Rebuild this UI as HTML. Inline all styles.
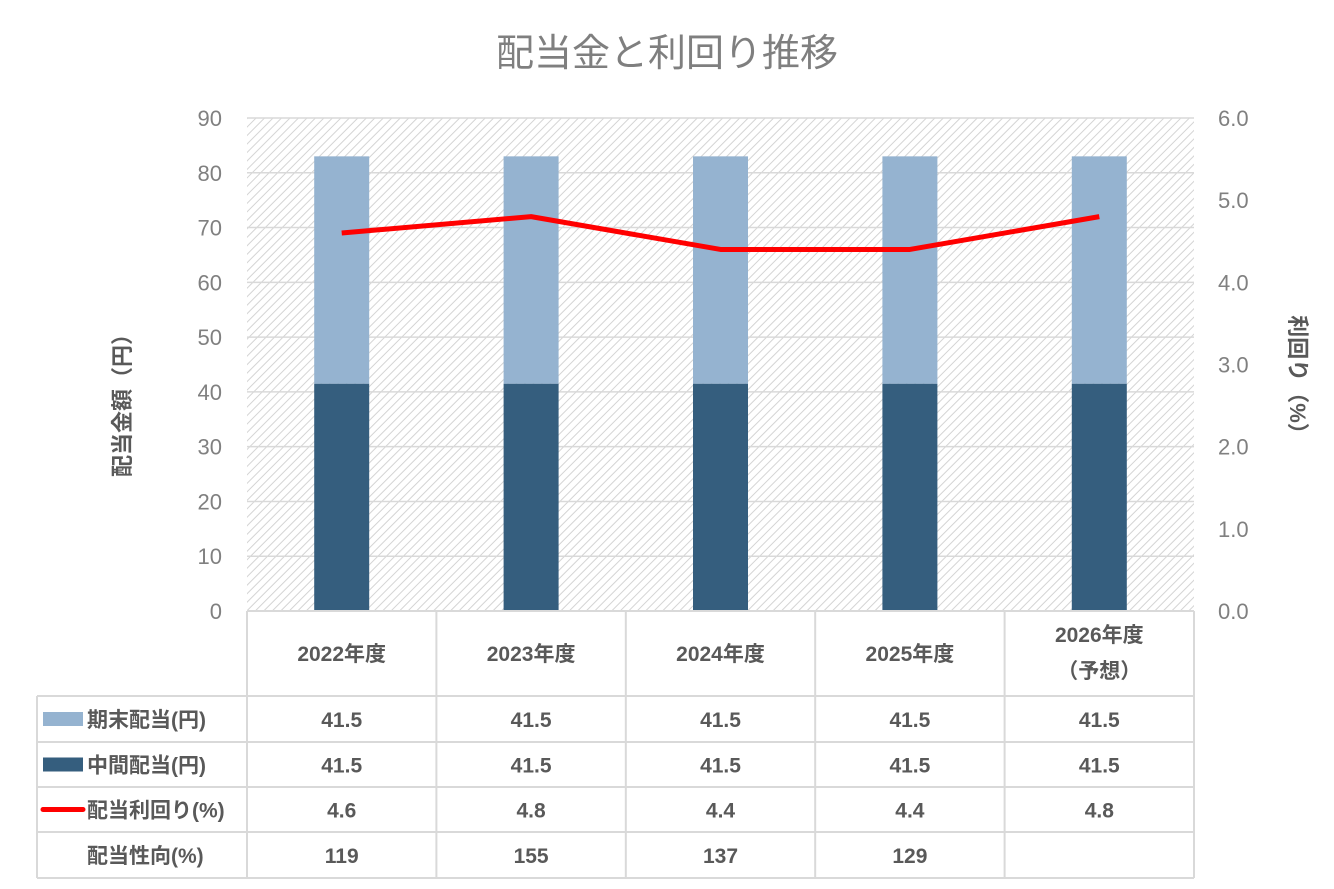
<!DOCTYPE html>
<html><head><meta charset="utf-8"><style>
body{margin:0;background:#fff;}
svg{display:block;font-family:"Liberation Sans","Noto Sans CJK JP",sans-serif;}
</style></head><body>
<svg id="c" width="1334" height="889" viewBox="0 0 1334 889">
<defs>
<pattern id="hatch" width="6" height="6" patternUnits="userSpaceOnUse" patternTransform="rotate(45)">
<rect width="6" height="6" fill="#fff"/><line x1="0" y1="0" x2="0" y2="6" stroke="#d4d4d4" stroke-width="2"/>
</pattern>
</defs>
<text x="667" y="66" text-anchor="middle" font-size="38" fill="#7f7f7f">配当金と利回り推移</text>
<rect x="247" y="118" width="947" height="493" fill="url(#hatch)"/>
<g id="grid"></g><g id="bars"></g><g id="line"></g><g id="axes"></g><g id="table"></g>
<text transform="translate(130,400) rotate(-90)" text-anchor="middle" font-size="22" font-weight="bold" fill="#595959">配当金額（円）</text>
<text transform="translate(1290,380) rotate(90)" text-anchor="middle" font-size="22" font-weight="bold" fill="#595959">利回り（%）</text>
</svg>
<script>
const categories=["2022年度","2023年度","2024年度","2025年度","2026年度"];
const interim=[41.5,41.5,41.5,41.5,41.5];
const yearEnd=[41.5,41.5,41.5,41.5,41.5];
const yieldPct=[4.6,4.8,4.4,4.4,4.8];
const payout=["119","155","137","129",""];
const leftTicks=[0,10,20,30,40,50,60,70,80,90];
const rightTicks=["0.0","1.0","2.0","3.0","4.0","5.0","6.0"];
const NS="http://www.w3.org/2000/svg";
const X0=247,X1=1194,Y0=611,Y1=118,colW=(X1-X0)/categories.length;
const y=v=>Y0-(v/90)*(Y0-Y1);
const y2=v=>Y0-(v/6)*(Y0-Y1);
const cx=i=>X0+colW*(i+0.5);
function mk(p,tag,a,txt){const e=document.createElementNS(NS,tag);for(const k in a)e.setAttribute(k,a[k]);if(txt!==undefined)e.textContent=txt;document.getElementById(p).appendChild(e);return e;}
leftTicks.forEach(t=>{
 const g=mk('grid','line',{x1:X0,x2:X1,y1:y(t),y2:y(t),stroke:'#d9d9d9','stroke-width':1.5});
 
 
 const l=mk('axes','text',{x:222,y:y(t)+8,'text-anchor':'end','font-size':22,fill:'#808080'},t);
 
 
});
rightTicks.forEach((t,i)=>{
 const l=mk('axes','text',{x:1218,y:y2(+t)+8,'font-size':22,fill:'#808080'},t);
 
 
});
categories.forEach((c,i)=>{
 const bw=55;
 const b1=mk('bars','rect',{x:cx(i)-bw/2,y:y(interim[i]),width:bw,height:Y0-y(interim[i]),fill:'#355e7e'});
 
 
 const top=interim[i]+yearEnd[i];
 const b2=mk('bars','rect',{x:cx(i)-bw/2,y:y(top),width:bw,height:y(interim[i])-y(top),fill:'#95b3d0'});
 
 
});
const pl=mk('line','polyline',{points:yieldPct.map((v,i)=>cx(i)+','+y2(v)).join(' '),fill:'none',stroke:'#ff0000','stroke-width':5,'stroke-linejoin':'round'});


// table
const rows=[611,696,742,787,832,878];
const lc='#d9d9d9';
[X0,...categories.map((c,i)=>X0+colW*(i+1))].forEach(x=>{const l=mk('table','line',{x1:x,x2:x,y1:Y0,y2:878,stroke:lc,'stroke-width':2});});
mk('table','line',{x1:37,x2:37,y1:696,y2:878,stroke:lc,'stroke-width':2});
rows.forEach((ry,k)=>{mk('table','line',{x1:k==0?X0:37,x2:X1,y1:ry,y2:ry,stroke:lc,'stroke-width':2});});
const ts={'font-size':21,'font-weight':'bold',fill:'#595959','text-anchor':'middle'};
categories.forEach((c,i)=>{
 if(i===4){
  const t=mk('table','text',Object.assign({x:cx(i),y:642},ts),c);
  
  
  const t2=mk('table','text',Object.assign({x:cx(i),y:678},ts),'（予想）');
  
  
 } else {
  const t=mk('table','text',Object.assign({x:cx(i),y:661},ts),c);
  
  
 }
 [yearEnd[i].toFixed(1),interim[i].toFixed(1),yieldPct[i].toFixed(1),payout[i]].forEach((v,r)=>{
  const t=mk('table','text',Object.assign({x:cx(i),y:(rows[r+1]+rows[r+2])/2+8},ts),v);
  
  
 });
});
const labels=["期末配当(円)","中間配当(円)","配当利回り(%)","配当性向(%)"];
labels.forEach((s,r)=>{
 const cy=(rows[r+1]+rows[r+2])/2;
 if(r<2){const k=mk('table','rect',{x:43,y:cy-7,width:40,height:14,fill:r==0?'#95b3d0':'#355e7e'});
  
  }
 if(r==2){const k=mk('table','line',{x1:43,x2:83,y1:cy,y2:cy,stroke:'#ff0000','stroke-width':5,'stroke-linecap':'round'});
  
  }
 const t=mk('table','text',{x:87,y:cy+8,'font-size':21,'font-weight':'bold',fill:'#595959'},s);
 
 
});
</script>
</body></html>
